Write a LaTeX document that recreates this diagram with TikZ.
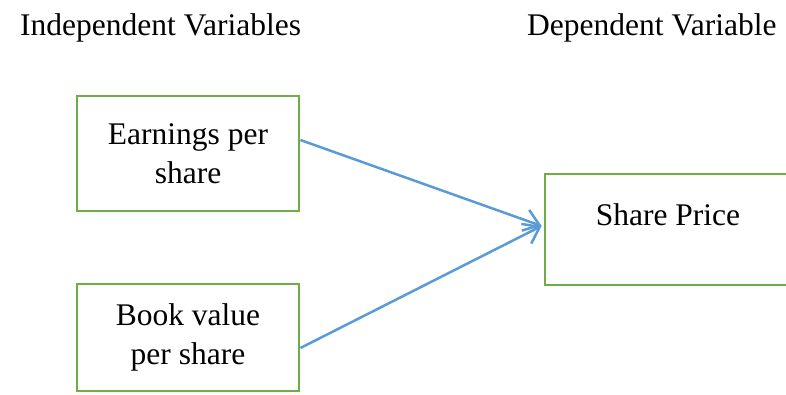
\documentclass[tikz,border=0pt]{standalone}
\usepackage{fontspec}
\setmainfont{Liberation Serif}
\usetikzlibrary{arrows.meta}
\definecolor{boxgreen}{HTML}{70AD47}
\definecolor{arrowblue}{HTML}{5B9BD5}
\begin{document}
\begin{tikzpicture}[x=1pt,y=-1pt,
  varbox/.style={draw=boxgreen,line width=2.8pt,minimum width=222pt,minimum height=115pt,inner sep=0pt,align=center,font=\fontsize{31.5}{39}\selectfont},
  heading/.style={anchor=base west,inner sep=0pt,font=\fontsize{31.5}{36}\selectfont},
  link/.style={draw=arrowblue,line width=2.5pt,-{Straight Barb[length=15pt,width=22pt,line width=2.5pt]}}]
\useasboundingbox (0,0) rectangle (786,394);
\node[heading] (hind) at (20,35) {Independent Variables};
\node[heading] (hdep) at (527,35) {Dependent Variable};
\node[varbox] (eps) at (188,153.5) {Earnings per\\share};
\node[varbox,minimum height=107pt] (bvps) at (188,337.5) {Book value\\per share};
\node[varbox,minimum width=246pt,minimum height=111pt] (sp) at (668,229.5) {};
\node[anchor=base,inner sep=0pt,font=\fontsize{31.5}{36}\selectfont] (sptext) at (668,225) {Share Price};
\draw[link] ([yshift=13.5pt]eps.east) -- ([xshift=-2pt,yshift=3.5pt]sp.west);
\draw[link] ([yshift=-10.5pt]bvps.east) -- ([xshift=-2pt,yshift=3.5pt]sp.west);
\end{tikzpicture}
\end{document}
